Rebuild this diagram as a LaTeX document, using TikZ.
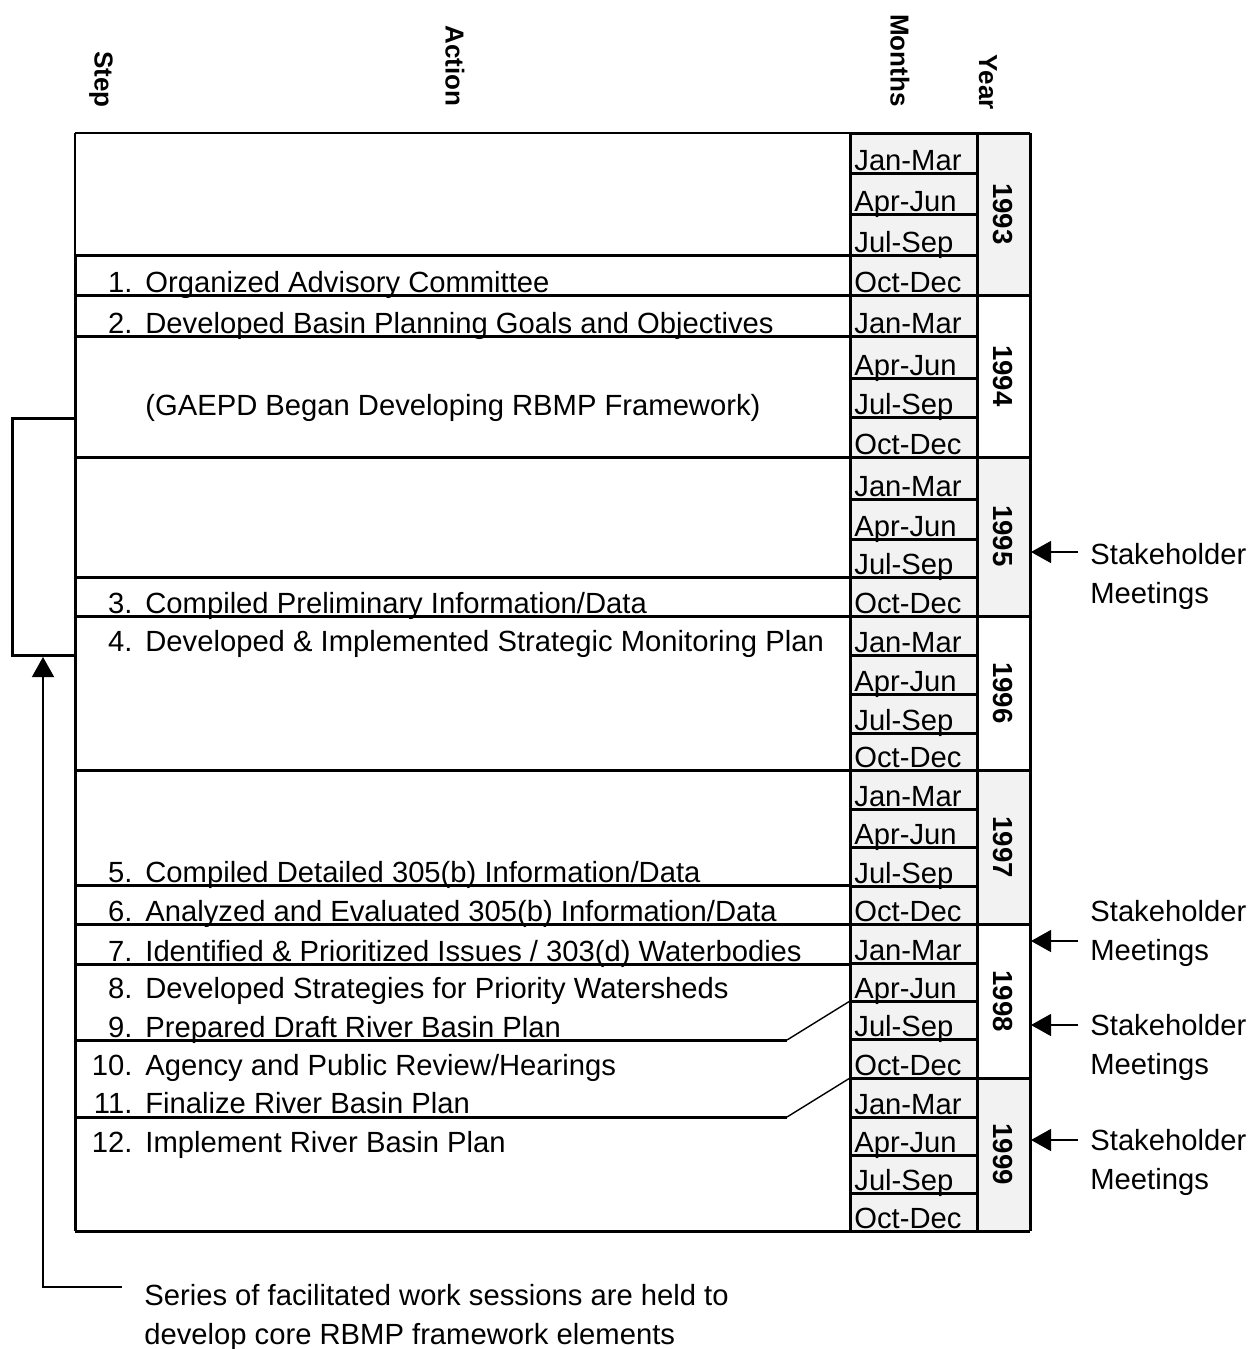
\documentclass[tikz,border=0pt]{standalone}
\usepackage{fontspec}
\setmainfont{Liberation Sans}
\usetikzlibrary{arrows.meta}
\begin{document}
\begin{tikzpicture}[x=0.5pt,y=-0.5pt,
  thickline/.style={line width=1.5pt},
  thinline/.style={line width=0.7pt},
  txt/.style={inner sep=0pt, font=\fontsize{14.6}{19.2}\selectfont},
  item/.style={txt, anchor=base west},
  mon/.style={txt, anchor=base west},
  yr/.style={inner sep=0pt, font=\fontsize{13.8}{16}\selectfont\bfseries, rotate=-90},
  hdr/.style={inner sep=0pt, font=\fontsize{13}{16}\selectfont\bfseries, rotate=-90, anchor=east},
  cellfill/.style={fill=gray!10},
  arr/.style={thinline, -{Triangle[length=10pt,width=11pt]}},
  note/.style={txt, align=left, anchor=base west},
]
\useasboundingbox (0,0) rectangle (1251,1349);

% headers
\node[hdr] (hstep) at (101,108) {Step};
\node[hdr] (haction) at (455,107) {Action};
\node[hdr] (hmonths) at (900,107) {Months};
\node[hdr] (hyear) at (988,110) {Year};

% fills
\fill[cellfill] (850,133) rectangle (977,1231);
\fill[cellfill] (977,133) rectangle (1030,295);
\fill[cellfill] (977,457) rectangle (1030,616);
\fill[cellfill] (977,770) rectangle (1030,924);
\fill[cellfill] (977,1078) rectangle (1030,1231);

% month cells
\foreach \b/\m [count=\i] in {
  173/Jan-Mar, 214/Apr-Jun, 255/Jul-Sep, 295/Oct-Dec,
  336/Jan-Mar, 378/Apr-Jun, 417/Jul-Sep, 457/Oct-Dec,
  499/Jan-Mar, 539/Apr-Jun, 577/Jul-Sep, 616/Oct-Dec,
  655/Jan-Mar, 694/Apr-Jun, 733/Jul-Sep, 770/Oct-Dec,
  809/Jan-Mar, 847/Apr-Jun, 886/Jul-Sep, 924/Oct-Dec,
  963/Jan-Mar, 1001/Apr-Jun, 1039/Jul-Sep, 1078/Oct-Dec,
  1117/Jan-Mar, 1155/Apr-Jun, 1193/Jul-Sep, 1231/Oct-Dec} {
  \draw[thickline] (850,\b) -- (977,\b);
  \node[mon] (m\i) at (854,{\b-3}) {\m};
}

% year boundaries
\foreach \b in {133,295,457,616,770,924,1078,1231}
  \draw[thickline] (850,\b) -- (1030,\b);

% year labels
\node[yr] (y1993) at (1003,214) {1993};
\node[yr] (y1994) at (1003,376) {1994};
\node[yr] (y1995) at (1003,536) {1995};
\node[yr] (y1996) at (1003,693) {1996};
\node[yr] (y1997) at (1003,847) {1997};
\node[yr] (y1998) at (1003,1001) {1998};
\node[yr] (y1999) at (1003,1154) {1999};

% vertical borders
\draw[thickline] (850,133) -- (850,1231);
\draw[thickline] (977,133) -- (977,1231);
\draw[thickline] (1030,133) -- (1030,1231);
\draw[thinline] (75,133) -- (75,255);
\draw[thickline] (75,255) -- (75,1231);

% action lines
\draw[thinline] (75,133) -- (850,133);
\foreach \b in {255,295,336,457,577,616,770,885,924,964,1231}
  \draw[thickline] (75,\b) -- (850,\b);
\draw[thickline] (75,1040) -- (787,1040);
\draw[thinline] (787,1040) -- (850,1001);
\draw[thickline] (75,1117) -- (787,1117);
\draw[thinline] (787,1117) -- (850,1078);

% action texts
\newcommand{\stepno}[1]{\makebox[20pt][r]{#1}\hspace{6.5pt}}
\node[item] (a1) at (92,292) {\stepno{1.}Organized Advisory Committee};
\node[item] (a2) at (92,333) {\stepno{2.}Developed Basin Planning Goals and Objectives};
\node[item] (a2b) at (145,415) {(GAEPD Began Developing RBMP Framework)};
\node[item] (a3) at (92,613) {\stepno{3.}Compiled Preliminary Information/Data};
\node[item] (a4) at (92,651) {\stepno{4.}Developed \& Implemented Strategic Monitoring Plan};
\node[item] (a5) at (92,882) {\stepno{5.}Compiled Detailed 305(b) Information/Data};
\node[item] (a6) at (92,921) {\stepno{6.}Analyzed and Evaluated 305(b) Information/Data};
\node[item] (a7) at (92,961) {\stepno{7.}Identified \& Prioritized Issues / 303(d) Waterbodies};
\node[item] (a8) at (92,998) {\stepno{8.}Developed Strategies for Priority Watersheds};
\node[item] (a9) at (92,1037) {\stepno{9.}Prepared Draft River Basin Plan};
\node[item] (a10) at (92,1075) {\stepno{10.}Agency and Public Review/Hearings};
\node[item] (a11) at (92,1113) {\stepno{11.}Finalize River Basin Plan};
\node[item] (a12) at (92,1152) {\stepno{12.}Implement River Basin Plan};

% bracket
\draw[thickline] (77,418) -- (12,418) -- (12,655) -- (77,655);

% work sessions note (base anchor = last line)
\node[note] (ws) at (144,1344) {Series of facilitated work sessions are held to\\develop core RBMP framework elements};
\coordinate (wsend) at (122,1287);
\coordinate (wscorner) at (43,1287);
\coordinate (wstip) at (43,657);
\draw[arr] (wsend) -- (wscorner) -- (wstip);

% stakeholder meetings
\foreach \ay/\ty [count=\i] in {552/603, 941/960, 1025/1074, 1140/1189} {
  \node[note] (sh\i) at (1090,\ty) {Stakeholder\\Meetings};
  \coordinate (st\i) at (1078,\ay);
  \coordinate (sp\i) at (1031,\ay);
  \draw[arr] (st\i) -- (sp\i);
}
\end{tikzpicture}
\end{document}
